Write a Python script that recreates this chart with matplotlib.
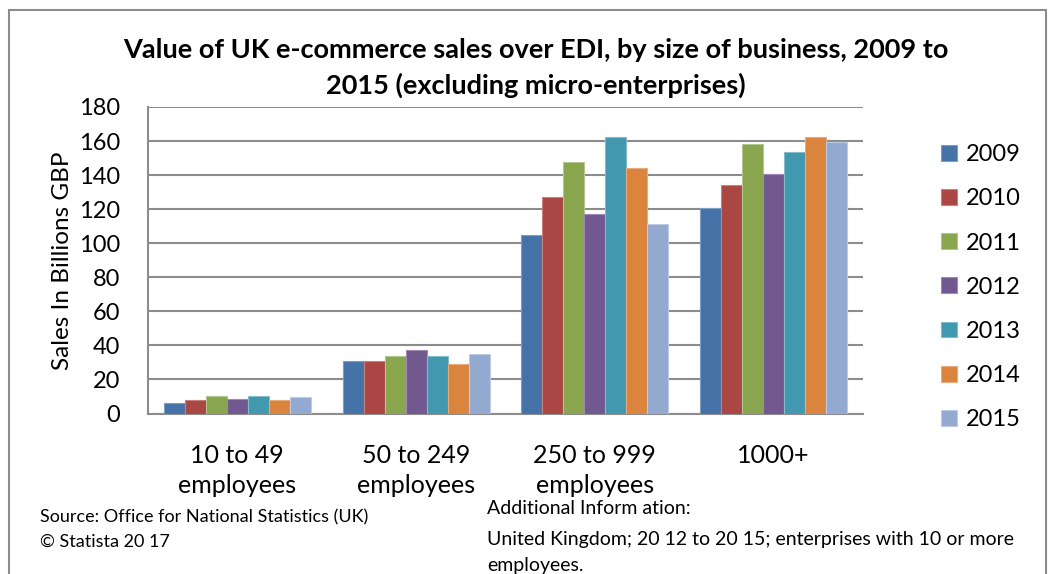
import matplotlib
matplotlib.use("Agg")
import matplotlib.pyplot as plt
from matplotlib.patches import Rectangle
import numpy as np

plt.rcParams['font.family'] = ['Lato', 'DejaVu Sans']

categories = ["10 to 49\nemployees", "50 to 249\nemployees", "250 to 999\nemployees", "1000+"]
years = ["2009", "2010", "2011", "2012", "2013", "2014", "2015"]
# sales in billions GBP, one list per year, ordered as categories
sales = {
    "2009": [5.9, 30.7, 105.1, 120.4],
    "2010": [8.2, 31.1, 127.2, 133.9],
    "2011": [10.4, 34.0, 147.6, 158.5],
    "2012": [8.8, 37.4, 117.0, 140.7],
    "2013": [10.0, 33.5, 162.4, 153.6],
    "2014": [8.2, 28.9, 144.4, 162.1],
    "2015": [9.4, 35.0, 111.0, 159.7],
}
colors = ["#4572A7", "#AA4643", "#89A54E", "#71588F", "#4198AF", "#DB843D", "#93A9CF"]
edges = ["#7f9cc4", "#c7807e", "#b1c78e", "#9d89b3", "#84bccb", "#e8ab7c", "#bccae3"]

W, H = 1052, 574
fig = plt.figure(figsize=(W / 100, H / 100), dpi=100)
fig.patch.set_facecolor("white")

# outer chart frame
fig.add_artist(Rectangle((9 / W, -0.05), 1037 / W, 1 - 10 / H + 0.05,
                         transform=fig.transFigure, fill=False,
                         edgecolor="#8c8c8c", linewidth=1.5))

ax = fig.add_axes([148 / W, 1 - 413.5 / H, 715 / W, 306.5 / H])

x = np.arange(len(categories))
bw = 1 / 8.5
for i, yr in enumerate(years):
    ax.bar(x + (i - 3) * bw, sales[yr], width=bw, color=colors[i],
           edgecolor=edges[i], linewidth=0.8, label=yr, zorder=3)

ax.set_xlim(-0.5, 3.5)
ax.set_ylim(0, 180)
ax.set_yticks(np.arange(0, 181, 20))
ax.set_xticks(x)
ax.set_xticklabels(categories, fontsize=18, linespacing=1.38)
ax.tick_params(axis="y", labelsize=17, length=0, pad=20)
ax.tick_params(axis="x", length=0, pad=22)
ax.grid(axis="y", color="#8c8c8c", linewidth=1.5, zorder=0)
for s in ["top", "right"]:
    ax.spines[s].set_visible(False)
for s in ["left", "bottom"]:
    ax.spines[s].set_color("#8c8c8c")
    ax.spines[s].set_linewidth(1.5)
ax.set_ylabel("Sales In Billions GBP", fontsize=17.5, labelpad=4)

ax.legend(loc="upper left", bbox_to_anchor=(920 / W, 1 - 123 / H),
          bbox_transform=fig.transFigure, frameon=False, fontsize=17,
          handlelength=0.65, handleheight=0.65, handletextpad=0.4,
          labelspacing=0.98)

fig.text(536 / W, 1 - 50 / H, "Value of UK e-commerce sales over EDI, by size of business, 2009 to",
         ha="center", va="center", fontsize=19.5, fontweight="bold")
fig.text(536 / W, 1 - 85 / H, "2015 (excluding micro-enterprises)",
         ha="center", va="center", fontsize=19.5, fontweight="bold")

fig.text(40 / W, 1 - 517 / H, "Source: Office for National Statistics (UK)", fontsize=13, va="center")
fig.text(40 / W, 1 - 542 / H, "\u00a9 Statista 20 17", fontsize=13, va="center")
fig.text(487 / W, 1 - 509 / H, "Additional Inform ation:", fontsize=14, va="center")
fig.text(487 / W, 1 - 539 / H, "United Kingdom; 20 12 to 20 15; enterprises with 10 or more",
         fontsize=14, va="center")
fig.text(487 / W, 1 - 565 / H, "employees.", fontsize=14, va="center")

fig.savefig("out.png", dpi=100)
